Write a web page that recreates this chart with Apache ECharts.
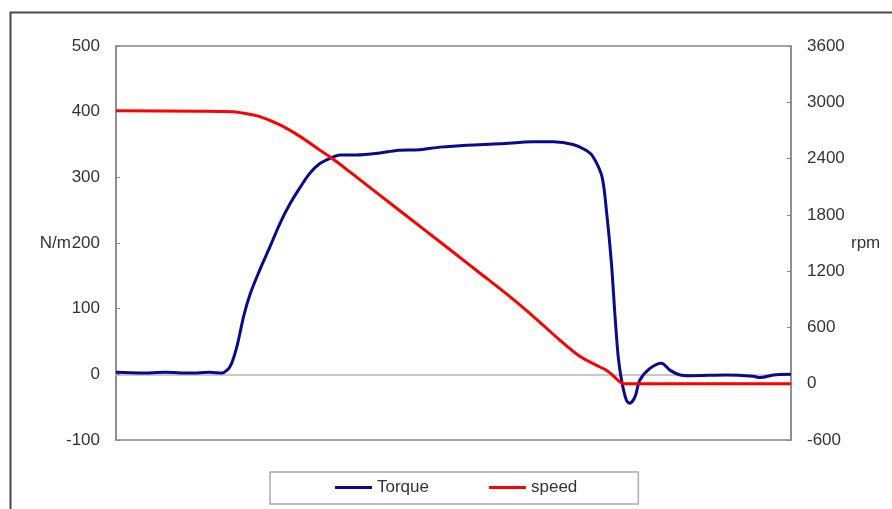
<!DOCTYPE html>
<html>
<head>
<meta charset="utf-8">
<script src="https://cdn.jsdelivr.net/npm/echarts@6/dist/echarts.min.js"></script>
<style>
html,body{margin:0;padding:0;background:#fff;}
#chart{width:892px;height:509px;}
</style>
</head>
<body>
<div id="chart"></div>
<script>
// Torque (N/m) vs time (s)
const torqueTime = [0, 0.36, 0.73, 1.10, 1.39, 1.57, 1.69, 1.79, 1.89, 1.99, 2.13, 2.28, 2.43, 2.58, 2.73, 2.87, 3.02, 3.17, 3.32, 3.56, 3.91, 4.16, 4.50, 4.80, 5.20, 5.69, 6.18, 6.48, 6.77, 6.97, 7.07, 7.20, 7.27, 7.34, 7.39, 7.44, 7.49, 7.56, 7.61, 7.69, 7.76, 7.91, 8.08, 8.21, 8.36, 8.50, 9.05, 9.44, 9.54, 9.74, 10.0];
const torque     = [3, 2, 3, 2, 3, 2, 12, 42, 88, 123, 159, 194, 230, 260, 285, 306, 321, 329, 334, 334, 337, 341, 342, 346, 349, 351, 354, 354, 350, 341, 331, 301, 245, 169, 93, 27, -9, -39, -44, -34, -9, 9, 17, 6, -1, -2, -1, -3, -5, -1, 0];
// Speed (rpm) vs time (s)
const speedTime = [0, 1.24, 1.73, 1.84, 2.13, 2.43, 2.73, 3.02, 3.20, 3.47, 4.21, 4.95, 5.39, 5.84, 6.21, 6.58, 6.87, 7.12, 7.27, 7.38, 7.47, 7.52, 10.0];
const speed     = [2910, 2905, 2900, 2890, 2847, 2759, 2634, 2490, 2403, 2255, 1841, 1428, 1180, 925, 700, 462, 292, 195, 142, 75, 17, 0, 0];
// Axis ticks
const leftTicks  = [-100, 0, 100, 200, 300, 400, 500];
const rightTicks = [-600, 0, 600, 1200, 1800, 2400, 3000, 3600];
const seriesNames = ['Torque', 'speed'];

const chart = echarts.init(document.getElementById('chart'), null, {renderer: 'canvas'});
const FONT = '"Liberation Sans", Arial, sans-serif';
const torqueData = torqueTime.map((t, i) => [t, torque[i]]);
const speedData = speedTime.map((t, i) => [t, speed[i]]);

chart.setOption({
  animation: false,
  backgroundColor: '#fff',
  graphic: [{
    type: 'rect', left: 8, top: 10, z: -1,
    shape: {width: 900, height: 520},
    style: {fill: 'none', stroke: '#4a4a4a', lineWidth: 2}
  }],
  grid: {left: 116, right: 101, top: 46, bottom: 69, show: true, borderColor: '#888', borderWidth: 1.5, backgroundColor: 'transparent'},
  legend: {
    data: seriesNames.map(n => ({name: n, icon: 'rect'})),
    left: 270, top: 472,
    itemWidth: 37, itemHeight: 3, itemGap: 60,
    padding: [7, 61, 8, 65],
    borderColor: '#aaa', borderWidth: 1.5,
    textStyle: {fontFamily: FONT, fontSize: 17, color: '#333'}
  },
  xAxis: {
    type: 'value', min: 0, max: 10,
    axisLine: {show: true, onZero: true, onZeroAxisIndex: 0, lineStyle: {color: '#b8b8b8', width: 1.5}},
    axisTick: {show: false}, axisLabel: {show: false}, splitLine: {show: false}
  },
  yAxis: [{
    type: 'value', position: 'left',
    min: leftTicks[0], max: leftTicks[leftTicks.length - 1], interval: leftTicks[1] - leftTicks[0],
    name: 'N/m', nameLocation: 'middle', nameRotate: 0, nameGap: 45, nameMoveOverlap: false,
    nameTextStyle: {fontFamily: FONT, fontSize: 17, color: '#333', align: 'right', verticalAlign: 'middle'},
    axisLine: {show: true, lineStyle: {color: '#888', width: 1.5}},
    axisTick: {show: true, inside: true, length: 4, lineStyle: {color: '#888'}},
    axisLabel: {fontFamily: FONT, fontSize: 17, color: '#333', margin: 16, formatter: v => String(v)},
    splitLine: {show: false}
  }, {
    type: 'value', position: 'right',
    min: rightTicks[0], max: rightTicks[rightTicks.length - 1], interval: rightTicks[1] - rightTicks[0],
    name: 'rpm', nameLocation: 'middle', nameRotate: 0, nameGap: 60, nameMoveOverlap: false,
    nameTextStyle: {fontFamily: FONT, fontSize: 17, color: '#333', align: 'left', verticalAlign: 'middle'},
    axisLine: {show: true, lineStyle: {color: '#888', width: 1.5}},
    axisTick: {show: true, inside: true, length: 4, lineStyle: {color: '#888'}},
    axisLabel: {fontFamily: FONT, fontSize: 17, color: '#333', margin: 16, formatter: v => String(v)},
    splitLine: {show: false}
  }],
  series: [{
    name: seriesNames[0], type: 'line', yAxisIndex: 0,
    data: torqueData, showSymbol: false, symbol: 'none', smooth: 0.3,
    lineStyle: {color: '#0a0a8c', width: 3}, itemStyle: {color: '#0a0a8c'}, z: 2
  }, {
    name: seriesNames[1], type: 'line', yAxisIndex: 1,
    data: speedData, showSymbol: false, symbol: 'none', smooth: 0.3,
    lineStyle: {color: '#ff0000', width: 3}, itemStyle: {color: '#ff0000'}, z: 3
  }]
});
</script>
</body>
</html>
